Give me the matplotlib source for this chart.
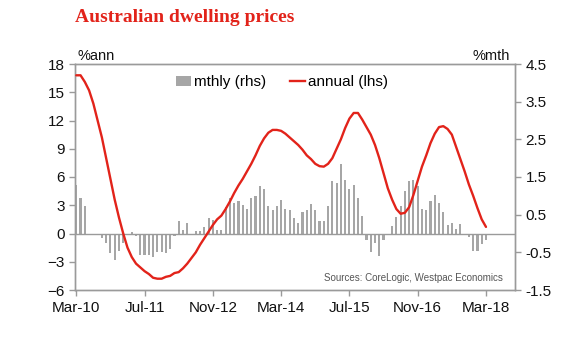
import matplotlib
matplotlib.use("Agg")
import matplotlib.pyplot as plt
from matplotlib.patches import Patch
from matplotlib.lines import Line2D

# ---- data (monthly, Mar-10 .. Mar-18) ----
tick_labels = ["Mar-10", "Jul-11", "Nov-12", "Mar-14", "Jul-15", "Nov-16", "Mar-18"]
tick_idx = [0, 16, 32, 48, 64, 80, 96]

monthly = [1.3, 0.93, 0.72, 0.0, -0.03, -0.05, -0.13, -0.24, -0.52, -0.70,
           -0.47, -0.25, -0.03, 0.03, -0.07, -0.56, -0.56, -0.56, -0.62, -0.49,
           -0.50, -0.53, -0.40, -0.06, 0.34, 0.10, 0.27, -0.02, 0.06, 0.06,
           0.18, 0.42, 0.37, 0.09, 0.08, 0.71, 0.93, 0.80, 0.87, 0.75,
           0.64, 0.93, 0.99, 1.27, 1.17, 0.73, 0.62, 0.73, 0.90, 0.66,
           0.62, 0.40, 0.29, 0.56, 0.62, 0.77, 0.62, 0.33, 0.34, 0.73,
           1.39, 1.33, 1.85, 1.43, 1.17, 1.28, 0.93, 0.46, -0.18, -0.49,
           -0.25, -0.60, -0.18, 0.0, 0.20, 0.44, 0.72, 1.13, 1.40, 1.41,
           1.25, 0.66, 0.62, 0.87, 1.02, 0.82, 0.58, 0.22, 0.27, 0.11,
           0.25, 0.0, -0.09, -0.46, -0.46, -0.28, -0.18]

annual = [16.8, 16.8, 16.1, 15.2, 13.8, 12.0, 10.2, 8.0, 5.8, 3.6,
          1.7, 0.0, -1.5, -2.5, -3.2, -3.6, -4.0, -4.3, -4.7, -4.8,
          -4.8, -4.6, -4.5, -4.2, -4.1, -3.7, -3.2, -2.6, -2.0, -1.2,
          -0.5, 0.2, 0.9, 1.5, 1.9, 2.6, 3.4, 4.3, 5.1, 5.8,
          6.6, 7.4, 8.3, 9.3, 10.1, 10.7, 11.0, 11.0, 10.9, 10.6,
          10.2, 9.8, 9.4, 8.9, 8.3, 7.9, 7.4, 7.15, 7.1, 7.4,
          8.0, 9.0, 10.0, 11.2, 12.2, 12.8, 12.8, 12.1, 11.3, 10.5,
          9.4, 8.0, 6.4, 4.8, 3.6, 2.6, 2.1, 2.2, 2.8, 4.1,
          5.6, 7.1, 8.3, 9.6, 10.6, 11.3, 11.4, 11.1, 10.5, 9.2,
          7.9, 6.6, 5.2, 4.0, 2.7, 1.5, 0.7]

left_ticks = [18, 15, 12, 9, 6, 3, 0, -3, -6]
right_ticks = [4.5, 3.5, 2.5, 1.5, 0.5, -0.5, -1.5]

# ---- style ----
RED = "#E2231A"
GREY = "#A6A6A6"
SPINE = "#9A9A9A"
plt.rcParams["font.family"] = ["Liberation Sans", "DejaVu Sans"]

W, H = 580, 352
fig = plt.figure(figsize=(W / 100, H / 100), dpi=100)
L, R, T, B = 75, 515, 64, 290
ax = fig.add_axes([L / W, 1 - B / H, (R - L) / W, (B - T) / H])
ax2 = ax.twinx()

x = list(range(len(monthly)))
ax2.bar(x, monthly, width=0.5, color=GREY, zorder=2)
ax2.set_ylim(-1.5, 4.5)
ax2.set_yticks(right_ticks)
ax2.set_yticklabels([f"{v:g}" for v in right_ticks])

ax.plot(range(len(annual)), annual, color=RED, lw=1.7, zorder=3,
        solid_joinstyle="round", solid_capstyle="round")
ax.set_ylim(-6, 18)
ax.set_yticks(left_ticks)
ax.set_xlim(-0.3, 102.8)
ax.set_xticks(tick_idx)
ax.set_xticklabels(tick_labels)
ax.axhline(0, color=SPINE, lw=1.0, zorder=1)

ax.set_zorder(ax2.get_zorder() + 1)
ax.patch.set_visible(False)

for a in (ax, ax2):
    for s in a.spines.values():
        s.set_color(SPINE)
        s.set_linewidth(1.0)
    a.tick_params(axis="both", direction="out", color=SPINE, length=4,
                  labelsize=11, labelcolor="#111111", width=1.0)
ax.tick_params(axis="x", pad=4)

handles = [Patch(facecolor=GREY, edgecolor="none"),
           Line2D([0], [0], color=RED, lw=1.7)]
ax.legend(handles, ["mthly (rhs)", "annual (lhs)"], loc="center",
          bbox_to_anchor=(0.47, 0.92), ncol=2, frameon=False, fontsize=11,
          handlelength=1.0, handletextpad=0.15, columnspacing=1.6,
          handleheight=0.6)

fig.text(75 / W, 1 - 18 / H, "Australian dwelling prices", color=RED,
         fontsize=14, fontweight="bold", family=["Liberation Serif"],
         va="center", ha="left")
fig.text(78 / W, 1 - 56 / H, "%ann", fontsize=10.5, va="center", ha="left",
         color="#111111")
fig.text(510 / W, 1 - 56 / H, "%mth", fontsize=10.5, va="center", ha="right",
         color="#111111")
fig.text(503 / W, 1 - 278 / H, "Sources: CoreLogic, Westpac Economics",
         fontsize=7, color="#555555", va="center", ha="right")

fig.savefig("out.png", dpi=100)
